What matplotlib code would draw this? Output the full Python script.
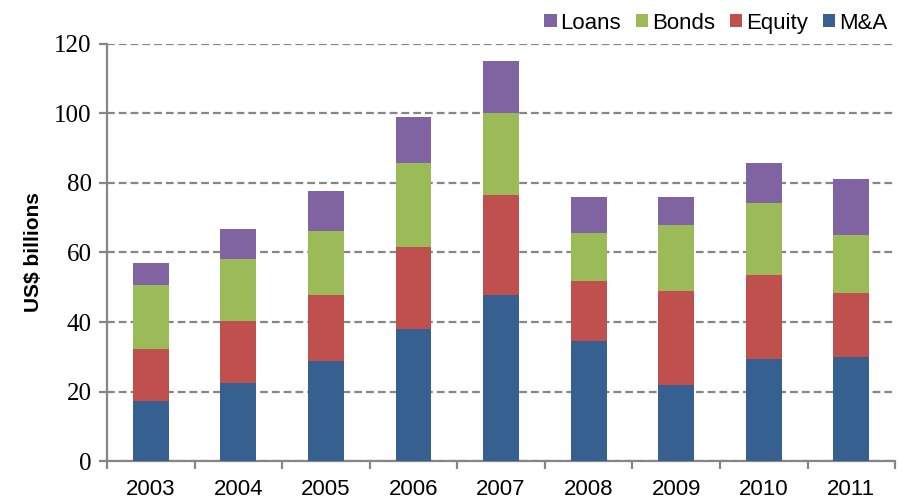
import numpy as np
import matplotlib.pyplot as plt

years = ['2003', '2004', '2005', '2006', '2007', '2008', '2009', '2010', '2011']
mna = [17.3, 22.4, 28.8, 38.0, 47.8, 34.5, 21.9, 29.4, 29.9]
equity = [14.9, 17.9, 19.0, 23.6, 28.7, 17.3, 27.0, 24.1, 18.4]
bonds = [18.4, 17.8, 18.4, 24.2, 23.6, 13.8, 19.0, 20.7, 16.7]
loans = [6.4, 8.7, 11.5, 13.2, 15.0, 10.4, 8.1, 11.6, 16.2]

series = [('M&A', mna, '#36608F'), ('Equity', equity, '#C0504D'),
          ('Bonds', bonds, '#9BBB59'), ('Loans', loans, '#8064A2')]

axis_col = '#868686'
sans = ['Liberation Sans Narrow', 'Liberation Sans', 'DejaVu Sans']

fig = plt.figure(figsize=(9.07, 4.99), dpi=100)
ax = fig.add_axes([0.118, 0.076, 0.869, 0.836])

x = np.arange(len(years))
bottom = np.zeros(len(years))
handles = {}
for name, vals, col in series:
    vals = np.array(vals)
    h = ax.bar(x, vals, width=0.41, bottom=bottom, color=col, zorder=3)
    handles[name] = h
    bottom += vals

ax.set_xlim(-0.5, len(years) - 0.5)
ax.set_ylim(0, 120)
ax.set_yticks(range(0, 121, 20))
ax.yaxis.grid(True, color=axis_col, linestyle=(0, (3.5, 1.8)), linewidth=1.6, zorder=0)
ax.set_axisbelow(True)

for s in ['top', 'right']:
    ax.spines[s].set_visible(False)
for s in ['left', 'bottom']:
    ax.spines[s].set_color(axis_col)
    ax.spines[s].set_linewidth(1.6)

ax.set_xticks(x)
ax.set_xticklabels(years, family=sans, fontsize=16)
ax.set_xticks(np.arange(-0.5, len(years)), minor=True)
ax.tick_params(axis='x', which='major', length=0, pad=13)
ax.tick_params(axis='x', which='minor', length=6, width=1.6, color=axis_col)
ax.tick_params(axis='y', length=6, width=1.6, color=axis_col, pad=5)
for lbl in ax.get_yticklabels():
    lbl.set_family('Liberation Serif')
    lbl.set_fontsize(18)

ax.set_ylabel('US$ billions', fontsize=15, fontweight='bold',
              family='Liberation Sans', labelpad=8)

order = ['Loans', 'Bonds', 'Equity', 'M&A']
leg = fig.legend([handles[n] for n in order], order, ncol=4, loc='upper right',
                 bbox_to_anchor=(1.0, 1.015), frameon=False,
                 prop={'family': sans, 'size': 16},
                 handlelength=0.55, handleheight=0.55, handletextpad=0.15,
                 columnspacing=0.7)

fig.savefig('out.png', dpi=100)
